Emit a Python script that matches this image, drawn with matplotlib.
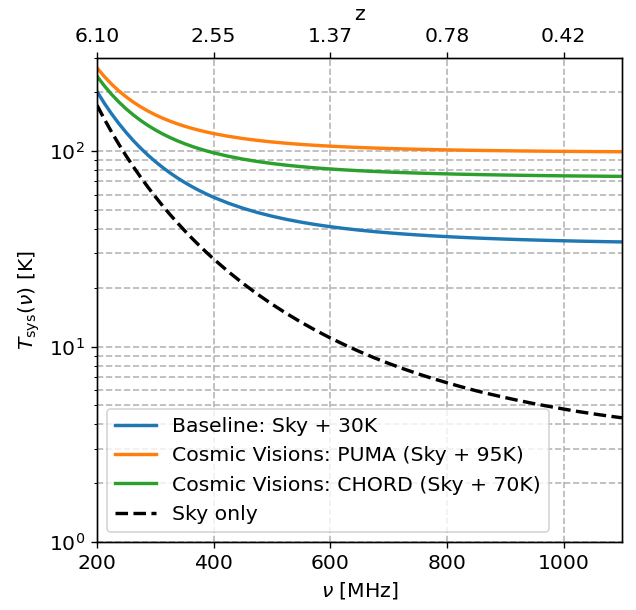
#! /usr/bin/env python3

'''
System temperature vs frequency for a few 21cm intensity mapping setups,
with the matching redshift on the top axis.
'''

import matplotlib
matplotlib.use('Agg')
import matplotlib.pyplot as plt


freq = [200, 212.5, 225, 237.5, 250, 262.5, 275, 287.5, 300, 312.5, 325,
        337.5, 350, 362.5, 375, 387.5, 400, 425, 450, 475, 500, 525, 550,
        575, 600, 625, 650, 675, 700, 725, 750, 775, 800, 825, 850, 875,
        900, 925, 950, 975, 1000, 1025, 1050, 1075, 1100]

sky_only = [172.03, 146.12, 125.33, 108.45, 94.59, 83.10, 73.48, 65.36,
            58.47, 52.57, 47.49, 43.10, 39.26, 35.92, 32.97, 30.37, 28.07,
            24.20, 21.08, 18.55, 16.48, 14.76, 13.32, 12.10, 11.07, 10.19,
            9.43, 8.77, 8.20, 7.70, 7.26, 6.87, 6.53, 6.22, 5.94, 5.70, 5.48,
            5.28, 5.10, 4.94, 4.79, 4.65, 4.53, 4.42, 4.32]

baseline = [202.03, 176.12, 155.33, 138.45, 124.59, 113.10, 103.48, 95.36,
            88.47, 82.57, 77.49, 73.10, 69.26, 65.92, 62.97, 60.37, 58.07,
            54.20, 51.08, 48.55, 46.48, 44.76, 43.32, 42.10, 41.07, 40.19,
            39.43, 38.77, 38.20, 37.70, 37.26, 36.87, 36.53, 36.22, 35.94,
            35.70, 35.48, 35.28, 35.10, 34.94, 34.79, 34.65, 34.53, 34.42,
            34.32]

puma = [267.03, 241.12, 220.33, 203.45, 189.59, 178.10, 168.48, 160.36,
        153.47, 147.57, 142.49, 138.10, 134.26, 130.92, 127.97, 125.37,
        123.07, 119.20, 116.08, 113.55, 111.48, 109.76, 108.32, 107.10,
        106.07, 105.19, 104.43, 103.77, 103.20, 102.70, 102.26, 101.87,
        101.53, 101.22, 100.94, 100.70, 100.48, 100.28, 100.10, 99.94, 99.79,
        99.65, 99.53, 99.42, 99.32]

chord = [242.03, 216.12, 195.33, 178.45, 164.59, 153.10, 143.48, 135.36,
         128.47, 122.57, 117.49, 113.10, 109.26, 105.92, 102.97, 100.37,
         98.07, 94.20, 91.08, 88.55, 86.48, 84.76, 83.32, 82.10, 81.07, 80.19,
         79.43, 78.77, 78.20, 77.70, 77.26, 76.87, 76.53, 76.22, 75.94, 75.70,
         75.48, 75.28, 75.10, 74.94, 74.79, 74.65, 74.53, 74.42, 74.32]

nu_ticks = [200, 400, 600, 800, 1000]
z_labels = ['6.10', '2.55', '1.37', '0.78', '0.42']


def main():
    plt.rcParams['font.size'] = 12
    dpi = 122
    fig = plt.figure(figsize=(636 / dpi, 610 / dpi), dpi=dpi)
    ax = fig.add_axes([0.1525, 0.1115, 0.8255, 0.7935])

    ax.plot(freq, baseline, color='C0', lw=2, label='Baseline: Sky + 30K')
    ax.plot(freq, puma, color='C1', lw=2,
            label='Cosmic Visions: PUMA (Sky + 95K)')
    ax.plot(freq, chord, color='C2', lw=2,
            label='Cosmic Visions: CHORD (Sky + 70K)')
    ax.plot(freq, sky_only, color='k', ls='--', lw=2, label='Sky only')

    ax.set_yscale('log')
    ax.set_xlim(200, 1100)
    ax.set_ylim(1, 300)
    ax.set_xticks(nu_ticks)
    grid_style = dict(ls='--', color='#b8b8b8', lw=1.0)
    ax.grid(True, which='major', **grid_style)
    ax.yaxis.grid(True, which='minor', **grid_style)
    ax.set_xlabel(r'$\nu$ [MHz]')
    ax.set_ylabel(r'$T_{\rm sys}(\nu)$ [K]')
    ax.legend(loc='lower left')

    top = ax.twiny()
    top.set_xlim(ax.get_xlim())
    top.set_xticks(nu_ticks)
    top.set_xticklabels(z_labels)
    top.set_xlabel('z')

    fig.savefig('out.png', dpi=dpi)


if __name__ == '__main__':
    main()
